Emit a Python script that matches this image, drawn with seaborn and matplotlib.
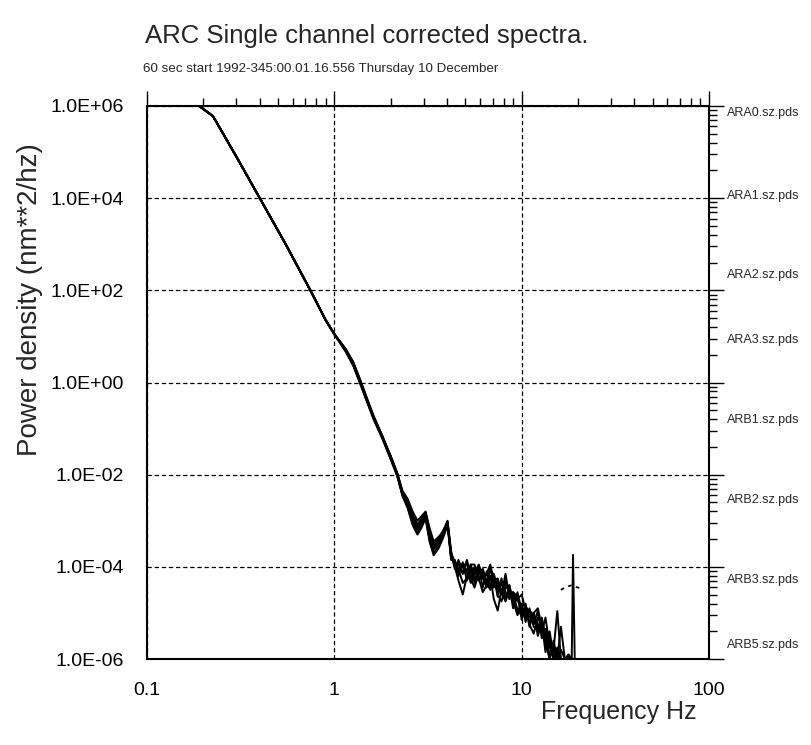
import numpy as np
import pandas as pd
import matplotlib
matplotlib.use("Agg")
import matplotlib.pyplot as plt
import seaborn as sns
from matplotlib.ticker import FixedLocator, FixedFormatter, LogLocator, NullFormatter

# --- data (log10 of power density) ---
trace_names = ["ARA0.sz.pds", "ARA1.sz.pds", "ARA2.sz.pds", "ARA3.sz.pds",
               "ARB1.sz.pds", "ARB2.sz.pds", "ARB3.sz.pds", "ARB5.sz.pds"]

# shared low-frequency part (all channels lie on top of each other here)
freq_low = [0.10, 0.19, 0.225, 0.30, 0.40, 0.55, 0.745, 0.90]
logp_low = [6.0, 6.0, 5.78, 4.9, 4.0, 3.0, 2.0, 1.35]

freq_high = [1.0, 1.15, 1.26, 1.38, 1.5, 1.62, 1.81, 2.0, 2.17, 2.31,
             2.46, 2.62, 2.78, 2.92, 3.07, 3.22, 3.39, 3.6, 3.8, 4.02,
             4.2, 4.4, 4.6, 4.85, 5.1, 5.35, 5.6, 5.9, 6.2, 6.5,
             6.8, 7.1, 7.45, 7.8, 8.2, 8.6, 9.0, 9.5, 10.0, 10.5,
             11.0, 11.6, 12.2, 12.8, 13.4, 14.1, 14.8, 15.5, 16.2, 17.0,
             17.8, 18.5, 18.8, 19.2, 19.6, 20.0]

logp_ara0 = [1.05, 0.72, 0.44, 0.02, -0.38, -0.74, -1.18, -1.60, -1.97, -2.35,
             -2.52, -2.80, -3.00, -2.90, -2.80, -3.15, -3.45, -3.35, -3.25, -3.00,
             -3.65, -4.05, -3.85, -4.15, -3.85, -4.15, -4.00, -4.30, -4.05, -4.35,
             -4.00, -4.45, -4.30, -4.60, -4.15, -4.65, -4.60, -4.95, -4.80, -5.20,
             -4.90, -5.25, -4.95, -5.55, -5.40, -6.00, -5.70, -6.00, -6.00, -6.00,
             -6.00, -6.00, -6.00, -6.00, -6.00, -6.00]
logp_ara1 = [1.05, 0.68, 0.38, -0.03, -0.42, -0.78, -1.22, -1.66, -2.03, -2.45,
             -2.70, -3.05, -3.28, -3.10, -2.92, -3.40, -3.70, -3.55, -3.35, -3.08,
             -3.85, -3.85, -4.20, -3.90, -4.30, -3.95, -4.35, -4.00, -4.45, -4.10,
             -4.45, -4.20, -4.65, -4.25, -4.70, -4.40, -4.90, -4.55, -5.15, -4.80,
             -5.30, -5.00, -5.50, -5.20, -5.85, -5.50, -6.00, -5.75, -6.00, -6.00,
             -6.00, -6.00, -6.00, -6.00, -6.00, -6.00]
logp_ara2 = [1.06, 0.71, 0.42, 0.01, -0.40, -0.75, -1.19, -1.62, -1.99, -2.40,
             -2.60, -2.90, -3.10, -2.95, -2.83, -3.25, -3.55, -3.40, -3.28, -3.04,
             -3.80, -3.90, -4.05, -4.35, -4.25, -3.95, -3.95, -4.25, -4.55, -4.40,
             -4.05, -4.20, -4.60, -4.75, -4.45, -4.40, -4.75, -5.05, -4.80, -4.85,
             -5.25, -5.45, -5.10, -5.20, -5.65, -6.00, -5.60, -6.00, -6.00, -6.00,
             -5.90, -6.00, -6.00, -6.00, -6.00, -6.00]
logp_ara3 = [1.04, 0.69, 0.40, -0.02, -0.41, -0.77, -1.21, -1.64, -2.01, -2.43,
             -2.66, -3.00, -3.20, -3.05, -2.88, -3.35, -3.62, -3.50, -3.32, -3.06,
             -3.70, -4.00, -4.30, -4.60, -4.20, -4.00, -4.15, -4.05, -4.25, -4.35,
             -4.20, -4.70, -4.95, -4.50, -4.35, -4.60, -4.55, -4.70, -5.00, -4.95,
             -5.10, -5.00, -5.35, -5.45, -5.10, -5.70, -6.00, -5.85, -6.00, -6.00,
             -6.00, -6.00, -6.00, -6.00, -6.00, -6.00]
logp_arb1 = [1.05, 0.73, 0.45, 0.04, -0.36, -0.72, -1.17, -1.60, -1.98, -2.38,
             -2.58, -2.88, -3.08, -2.98, -2.86, -3.22, -3.50, -3.38, -3.22, -3.02,
             -3.80, -3.95, -3.90, -4.00, -4.20, -4.25, -4.05, -4.10, -4.25, -4.15,
             -3.95, -4.30, -4.45, -4.30, -4.55, -4.70, -4.55, -4.65, -4.95, -5.10,
             -4.95, -5.05, -5.25, -5.40, -5.35, -5.65, -5.90, -6.00, -5.80, -6.00,
             -6.00, -6.00, -6.00, -6.00, -6.00, -6.00]
logp_arb2 = [1.05, 0.67, 0.37, -0.05, -0.44, -0.80, -1.23, -1.67, -2.04, -2.46,
             -2.72, -3.10, -3.30, -3.15, -2.95, -3.45, -3.75, -3.60, -3.38, -3.10,
             -3.75, -3.90, -4.10, -3.95, -3.95, -4.25, -4.45, -4.15, -4.05, -4.35,
             -4.50, -4.30, -4.25, -4.55, -4.75, -4.50, -4.60, -4.95, -5.05, -4.85,
             -5.00, -5.30, -5.35, -5.10, -5.50, -5.90, -5.75, -6.00, -6.00, -6.00,
             -6.00, -6.00, -6.00, -6.00, -6.00, -6.00]
logp_arb3 = [1.05, 0.70, 0.41, 0.00, -0.39, -0.76, -1.20, -1.63, -2.00, -2.42,
             -2.64, -2.97, -3.18, -3.02, -2.84, -3.32, -3.58, -3.47, -3.30, -3.05,
             -3.70, -3.90, -4.10, -3.95, -4.10, -4.35, -4.15, -3.95, -4.20, -4.45,
             -4.25, -4.15, -4.45, -4.60, -4.35, -4.50, -4.80, -4.70, -4.60, -4.95,
             -5.20, -5.00, -4.90, -5.30, -5.60, -5.40, -5.95, -6.00, -5.30, -6.00,
             -6.00, -6.00, -6.00, -6.00, -6.00, -6.00]
logp_arb5 = [1.05, 0.71, 0.43, 0.02, -0.39, -0.75, -1.19, -1.61, -1.99, -2.39,
             -2.62, -2.93, -3.12, -2.97, -2.82, -3.28, -3.52, -3.42, -3.27, -3.03,
             -3.75, -4.00, -3.95, -4.15, -4.05, -4.10, -4.25, -4.10, -4.20, -4.35,
             -4.20, -4.35, -4.50, -4.40, -4.30, -4.55, -4.70, -4.60, -4.90, -5.05,
             -4.95, -5.15, -5.25, -5.40, -5.35, -5.75, -5.80, -4.96, -6.00, -6.00,
             -5.95, -6.00, -3.74, -6.00, -6.00, -6.00]

# short dotted fragment near the 19 Hz line
dot_freq = [16.2, 17.0, 17.8, 18.5, 19.2, 20.0, 21.0]
dot_logp = [-4.50, -4.45, -4.42, -4.40, -4.43, -4.45, -4.47]

high_parts = [logp_ara0, logp_ara1, logp_ara2, logp_ara3,
              logp_arb1, logp_arb2, logp_arb3, logp_arb5]

rows = []
for name, part in zip(trace_names, high_parts):
    for f, lp in zip(freq_low + freq_high, logp_low + part):
        rows.append({"trace": name, "freq": f, "power": 10.0 ** lp})
df = pd.DataFrame(rows)

title = "ARC Single channel corrected spectra."
subtitle = "60 sec start 1992-345:00.01.16.556 Thursday 10 December"
x_major = [0.1, 1, 10, 100]
x_labels = ["0.1", "1", "10", "100"]
y_major = [10.0 ** e for e in range(-6, 7, 2)]

# --- styling ---
sns.set_theme(style="white")
plt.rcParams["font.family"] = ["Liberation Sans", "DejaVu Sans"]
plt.rcParams["axes.linewidth"] = 1.5

W, H = 811, 745
fig = plt.figure(figsize=(W / 100, H / 100), dpi=100)
ax = fig.add_axes([147 / W, 1 - 659 / H, (709 - 147) / W, (659 - 106) / H])

sns.lineplot(data=df, x="freq", y="power", hue="trace", palette=["black"] * 8,
             estimator=None, sort=False, legend=False, lw=1.4, ax=ax)
ax.plot(dot_freq, 10.0 ** np.array(dot_logp), color="black", lw=1.3,
        ls=(0, (2, 2.5)))

ax.set_xscale("log")
ax.set_yscale("log")
ax.set_xlim(0.1, 100)
ax.set_ylim(1e-6, 1e6)

ax.xaxis.set_major_locator(FixedLocator(x_major))
ax.xaxis.set_major_formatter(FixedFormatter(x_labels))
ax.xaxis.set_minor_locator(LogLocator(base=10, subs=np.arange(2, 10)))
ax.xaxis.set_minor_formatter(NullFormatter())

# the old plotting package spaced its minor ticks over two decades
y_minor = [k * k * 10.0 ** e for e in range(-6, 6, 2) for k in range(2, 10)]
ax.yaxis.set_major_locator(FixedLocator(y_major))
ax.yaxis.set_major_formatter(FixedFormatter([f"{v:.1E}" for v in y_major]))
ax.yaxis.set_minor_locator(FixedLocator(y_minor))
ax.yaxis.set_minor_formatter(NullFormatter())

ax.tick_params(which="both", direction="out", top=True, right=True,
               labeltop=False, labelright=False, colors="black", width=1.0)
ax.tick_params(which="major", length=11, pad=5.5, labelsize=14)
ax.tick_params(which="minor", length=6)
for s in ax.spines.values():
    s.set_color("black")

ax.grid(True, which="major", color="black", lw=0.9, ls=(0, (3.5, 2.2)))
ax.set_xlabel("")
ax.set_ylabel("")

fig.text(145 / W, 1 - 43 / H, title, fontsize=18.5, va="baseline", ha="left")
fig.text(143 / W, 1 - 72 / H, subtitle, fontsize=9.6, va="baseline", ha="left")
fig.text(30 / W, 1 - 300 / H, "Power density (nm**2/hz)", fontsize=20,
         rotation=90, va="center", ha="center")
fig.text(697 / W, 1 - 712 / H, "Frequency Hz", fontsize=18,
         va="center", ha="right")

label_y = [113, 196, 275, 340, 420, 500, 580, 645]
for name, yp in zip(trace_names, label_y):
    fig.text(727 / W, 1 - yp / H, name, fontsize=9, va="center", ha="left")

fig.savefig("out.png", dpi=100, facecolor="white")
